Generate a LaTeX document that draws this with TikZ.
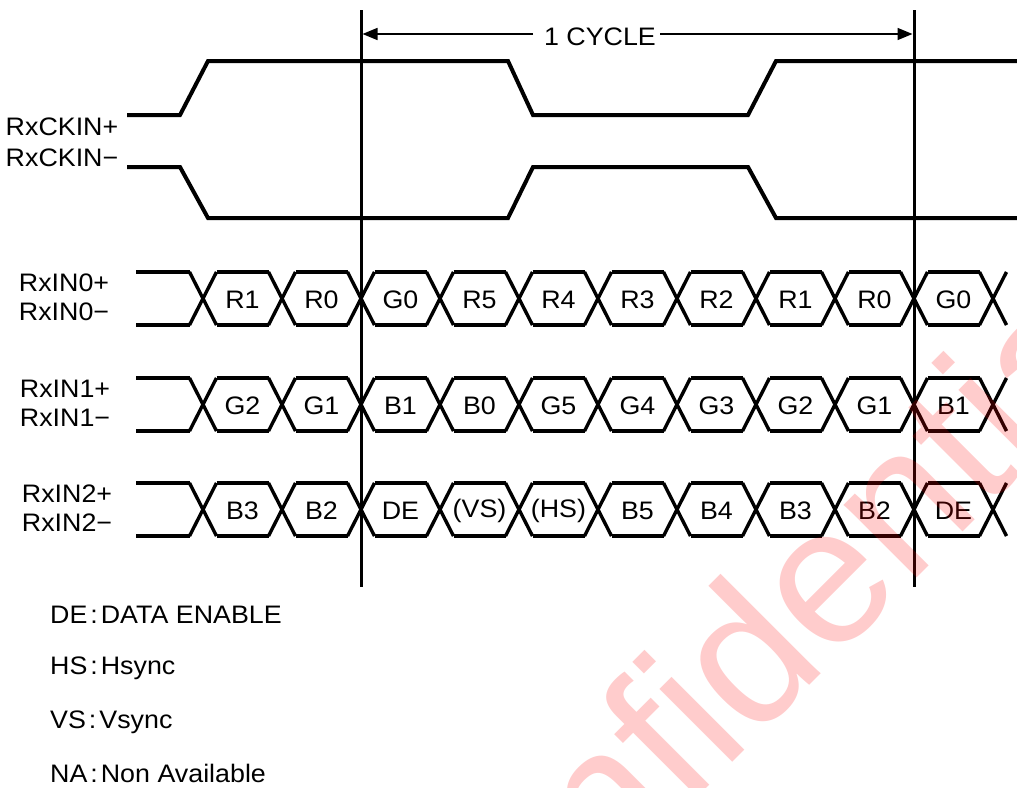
\documentclass[tikz,border=0pt]{standalone}
\usepackage{fontspec}
\setmainfont[FakeStretch=1.06]{Liberation Sans}
\newfontfamily\wmfont{Liberation Sans}
\usetikzlibrary{arrows.meta}
\begin{document}
\begin{tikzpicture}[x=1pt,y=-1pt,
  lbl/.style={font=\fontsize{25.3}{28}\selectfont, inner sep=0pt},
  clk/.style={line width=4pt, line join=miter},
  bus/.style={line width=3.4pt},
  marker/.style={line width=3pt},
  dimline/.style={line width=1.6pt, -{Triangle[length=15pt,width=12pt]}},
  wmark/.style={rotate=45, anchor=base west, text=red, text opacity=0.2, inner sep=0pt,
    font=\wmfont\fontsize{195}{195}\selectfont},
]
\useasboundingbox (0,0) rectangle (1017,787);
\clip (0,0) rectangle (1017,787);

% cycle boundary lines
\coordinate (vlt) at (361,10); \coordinate (vlb) at (361,587);
\coordinate (vrt) at (914,10); \coordinate (vrb) at (914,587);
\draw[marker] (vlt) -- (vlb);
\draw[marker] (vrt) -- (vrb);

% 1 CYCLE dimension
\node[lbl] (cyc) at (600,37) {1 CYCLE};
\coordinate (al) at (362.5,34);
\coordinate (ar) at (912.5,34);
\coordinate (cl) at (533,34);
\coordinate (cr) at (660,34);
\draw[dimline] (cl) -- (al);
\draw[dimline] (cr) -- (ar);

% clock
\draw[clk] (127,115) -- (180,115) -- (208,61) -- (508,61) -- (533,115) -- (748,115) -- (776,61) -- (1025,61);
\draw[clk] (127,167) -- (180,167) -- (208,218) -- (508,218) -- (533,167) -- (748,167) -- (776,218) -- (1025,218);
\node[lbl] (ckp) at (62,127) {RxCKIN+};
\node[lbl] (ckn) at (62,158) {RxCKIN−};

% data rows
\foreach \r/\T/\B/\lx/\labs in {
  0/272/325/64/{R1,R0,G0,R5,R4,R3,R2,R1,R0,G0},
  1/378/431/65/{G2,G1,B1,B0,G5,G4,G3,G2,G1,B1},
  2/483/536/67/{B3,B2,DE,(VS),(HS),B5,B4,B3,B2,DE}} {
  \pgfmathsetmacro{\M}{(\T+\B)/2}
  \draw[bus] (136,\T) -- (189.5,\T);
  \draw[bus] (136,\B) -- (189.5,\B);
  \foreach \k in {0,...,10} {
    \pgfmathsetmacro{\c}{203+79*\k}
    \draw[bus] (\c-13.5,\T) -- (\c+13.5,\B);
    \draw[bus] (\c-13.5,\B) -- (\c+13.5,\T);
  }
  \foreach \k in {0,...,9} {
    \pgfmathsetmacro{\c}{203+79*\k}
    \draw[bus] (\c+13.5,\T) -- (\c+65.5,\T);
    \draw[bus] (\c+13.5,\B) -- (\c+65.5,\B);
  }
  \foreach \lab [count=\i from 0] in \labs {
    \node[lbl] (d\r-\i) at (242.5+79*\i,\M+1.5) {\lab};
  }
  \node[lbl] (rp\r) at (\lx,\M-16) {RxIN\r+};
  \node[lbl] (rn\r) at (\lx,\M+13) {RxIN\r−};
}

% legend
\node[lbl, anchor=west] (lg1) at (50,615) {DE\kern3pt:\kern3pt DATA ENABLE};
\node[lbl, anchor=west] (lg2) at (50,668) {HS\kern3pt:\kern3pt Hsync};
\node[lbl, anchor=west] (lg3) at (50,722) {VS\kern3pt:\kern3pt Vsync};
\node[lbl, anchor=west] (lg4) at (50,773) {NA\kern3pt:\kern3pt Non Available};

% watermark
\node[wmark] (wm) at (432,1063) {Confidential};
\end{tikzpicture}
\end{document}
